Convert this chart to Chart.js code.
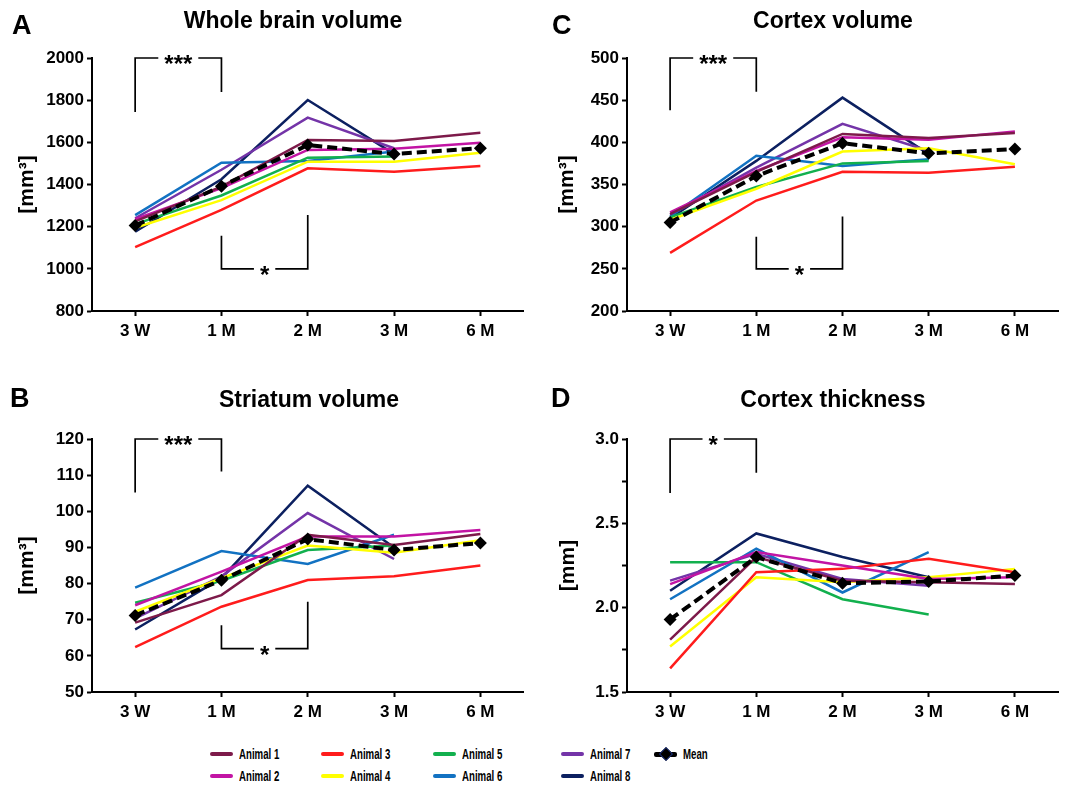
<!DOCTYPE html>
<html>
<head>
<meta charset="utf-8">
<script src="https://cdn.jsdelivr.net/npm/chart.js@4.4.1/dist/chart.umd.min.js"></script>
<style>
  body { margin: 0; background: #fff; }
  #fig { position: relative; width: 1065px; height: 786px; overflow: hidden;
         font-family: 'Liberation Sans', Arial, sans-serif; color: #000; }
  canvas { position: absolute; }
  .title { position: absolute; width: 400px; text-align: center; font-weight: bold;
           font-size: 23px; line-height: 23px; white-space: nowrap; }
  .letter { position: absolute; font-weight: bold; font-size: 27px; line-height: 27px; }
  .key { position: absolute; height: 14px; }
  .key .sw { position: absolute; left: 0; top: 5px; width: 23px; height: 4px; border-radius: 2px; }
  .key .txt { position: absolute; left: 29px; top: 0; font-weight: bold; font-size: 14px;
              line-height: 14px; white-space: nowrap; transform: scaleX(0.69); transform-origin: left; }
  .key .dia { position: absolute; left: 7px; top: 2px; width: 8px; height: 8px; background: #000;
              border: 1px solid #1b2f7a; transform: rotate(45deg); }
</style>
</head>
<body>
<div id="fig">
  <canvas id="chartA"></canvas>
  <canvas id="chartC"></canvas>
  <canvas id="chartB"></canvas>
  <canvas id="chartD"></canvas>
</div>
<script>
const timepoints = ['3 W', '1 M', '2 M', '3 M', '6 M'];
const animals = ['Animal 1', 'Animal 2', 'Animal 3', 'Animal 4', 'Animal 5', 'Animal 6', 'Animal 7', 'Animal 8'];
const animalColors = ['#7d1a4a', '#c214a4', '#ff1c1c', '#ffff00', '#12b04e', '#1272c2', '#7434a8', '#0c2060'];

// A - whole brain volume [mm3]
const wholeBrain = [
  [1225, 1390, 1611, 1606, 1645],
  [1235, 1383, 1564, 1570, 1598],
  [1103, 1280, 1477, 1461, 1488],
  [1195, 1326, 1508, 1508, 1551],
  [1212, 1348, 1527, 1533, null],
  [1255, 1503, 1511, 1556, null],
  [1240, 1470, 1717, 1572, null],
  [1176, 1425, 1801, 1545, null],
];
const wholeBrainMean = [1205, 1392, 1587, 1545, 1572];
const wholeBrainBrackets = [['3 W', '1 M', 2000, 1744, 1839, '***'], ['1 M', '2 M', 1000, 1157, 1255, '*']];

// C - cortex volume [mm3]
const cortexVolume = [
  [315, 365, 410, 405, 411],
  [317, 366, 406, 403, 413],
  [269, 331, 365, 364, 371],
  [308, 345, 389, 393, 374],
  [311, 347, 375, 378, null],
  [312, 384, 372, 380, null],
  [314, 370, 422, 390, null],
  [310, 378, 453, 386, null],
];
const cortexVolumeMean = [305, 360, 399, 387, 392];
const cortexVolumeBrackets = [['3 W', '1 M', 500, 438, 460, '***'], ['1 M', '2 M', 250, 288, 312, '*']];

// B - striatum volume [mm3]
const striatum = [
  [69.2, 76.8, 93.5, 90.7, 93.7],
  [74.0, 83.3, 93.0, 93.0, 94.8],
  [62.4, 73.6, 81.0, 82.0, 85.0],
  [72.2, 81.5, 90.5, 88.5, 92.0],
  [74.7, 80.8, 89.3, 90.5, null],
  [78.9, 89.0, 85.4, 93.5, null],
  [70.4, 82.0, 99.5, 86.8, null],
  [67.3, 81.5, 107.1, 90.0, null],
];
const striatumMean = [71.2, 80.9, 92.3, 89.3, 91.2];
const striatumBrackets = [['3 W', '1 M', 120, 105.2, 111, '***'], ['1 M', '2 M', 62, 68.5, 75, '*']];

// D - cortex thickness [mm]
const thickness = [
  [1.81, 2.30, 2.16, 2.15, 2.14],
  [2.14, 2.33, 2.25, 2.17, 2.18],
  [1.64, 2.21, 2.23, 2.29, 2.21],
  [1.77, 2.18, 2.15, 2.18, 2.23],
  [2.27, 2.27, 2.05, 1.96, null],
  [2.05, 2.35, 2.09, 2.33, null],
  [2.16, 2.32, 2.17, 2.13, null],
  [2.10, 2.44, 2.30, 2.18, null],
];
const thicknessMean = [1.93, 2.30, 2.145, 2.155, 2.19];
const thicknessBrackets = [['3 W', '1 M', 3.0, 2.68, 2.80, '*']];

const FONT = "'Liberation Sans', Arial, sans-serif";
Chart.defaults.font.family = FONT;
Chart.defaults.color = '#000';

function bracketPlugin(list) {
  return {
    id: 'brackets',
    afterDatasetsDraw(chart) {
      const { ctx, scales: { x, y } } = chart;
      ctx.save();
      ctx.strokeStyle = '#000';
      ctx.fillStyle = '#000';
      ctx.lineWidth = 1.7;
      ctx.font = 'bold 24px ' + FONT;
      ctx.textAlign = 'center';
      list.forEach(([from, to, level, endFrom, endTo, label]) => {
        const x1 = x.getPixelForValue(timepoints.indexOf(from));
        const x2 = x.getPixelForValue(timepoints.indexOf(to));
        const yl = y.getPixelForValue(level);
        const mid = (x1 + x2) / 2;
        const half = ctx.measureText(label).width / 2 + 6;
        ctx.beginPath();
        ctx.moveTo(x1, y.getPixelForValue(endFrom));
        ctx.lineTo(x1, yl);
        ctx.lineTo(mid - half, yl);
        ctx.moveTo(mid + half, yl);
        ctx.lineTo(x2, yl);
        ctx.lineTo(x2, y.getPixelForValue(endTo));
        ctx.stroke();
        ctx.fillText(label, mid, yl + 14);
      });
      ctx.restore();
    }
  };
}

function panel(id, box, values, mean, yMin, yMax, step, yTitle, brackets, fmt) {
  const cv = document.getElementById(id);
  cv.width = box.w; cv.height = box.h;
  cv.style.left = box.left + 'px'; cv.style.top = box.top + 'px';
  cv.style.width = box.w + 'px'; cv.style.height = box.h + 'px';

  const datasets = [{
    label: 'Mean', data: mean, borderColor: '#000', backgroundColor: '#000',
    borderWidth: 4, borderDash: [10, 5], pointStyle: 'rectRot', pointRadius: 6.5,
    pointBorderWidth: 0, tension: 0, order: 0
  }];
  values.forEach((v, i) => datasets.push({
    label: animals[i], data: v, borderColor: animalColors[i], backgroundColor: animalColors[i],
    borderWidth: 2.5, pointRadius: 0, tension: 0, order: 1
  }));

  const tickFont = { size: 17, weight: 'bold' };
  return new Chart(cv, {
    type: 'line',
    data: { labels: timepoints, datasets },
    plugins: [bracketPlugin(brackets)],
    options: {
      responsive: false,
      animation: false,
      devicePixelRatio: 1,
      layout: { padding: { top: box.padTop, right: box.padRight, left: 0, bottom: 0 } },
      plugins: { legend: { display: false }, tooltip: { enabled: false } },
      scales: {
        x: {
          offset: true,
          border: { color: '#000', width: 2 },
          grid: { drawOnChartArea: false, drawTicks: true, tickLength: 5, tickColor: '#000', tickWidth: 2, offset: false },
          ticks: { font: tickFont, padding: 5, maxRotation: 0, autoSkip: false },
          afterFit: s => { s.height = box.xH; }
        },
        y: {
          min: yMin, max: yMax,
          border: { color: '#000', width: 2 },
          grid: { drawOnChartArea: false, drawTicks: true, tickLength: 5, tickColor: '#000', tickWidth: 2 },
          ticks: { stepSize: step, font: tickFont, padding: 3, callback: fmt },
          title: { display: true, text: yTitle, font: { size: 21, weight: 'bold' }, padding: { top: box.titlePad, bottom: 0 } },
          afterFit: s => { s.width = box.axisW; }
        }
      }
    }
  });
}

const plain = v => String(v);
const half = v => Math.abs(v * 2 - Math.round(v * 2)) < 1e-6 ? v.toFixed(1) : '';

panel('chartA', { left: 0, top: 0, w: 530, h: 345, axisW: 92, padTop: 58, padRight: 3, xH: 34, titlePad: 15 },
  wholeBrain, wholeBrainMean, 800, 2000, 200, '[mm³]', wholeBrainBrackets, plain);
panel('chartC', { left: 530, top: 0, w: 535, h: 345, axisW: 97, padTop: 58, padRight: 7, xH: 34, titlePad: 25 },
  cortexVolume, cortexVolumeMean, 200, 500, 50, '[mm³]', cortexVolumeBrackets, plain);
panel('chartB', { left: 0, top: 370, w: 530, h: 356, axisW: 92, padTop: 69, padRight: 3, xH: 34, titlePad: 15 },
  striatum, striatumMean, 50, 120, 10, '[mm³]', striatumBrackets, plain);
panel('chartD', { left: 530, top: 370, w: 535, h: 356, axisW: 97, padTop: 69, padRight: 7, xH: 34, titlePad: 26 },
  thickness, thicknessMean, 1.5, 3.0, 0.25, '[mm]', thicknessBrackets, half);

// panel titles and letters
const fig = document.getElementById('fig');
function addText(cls, text, left, top) {
  const d = document.createElement('div');
  d.className = cls; d.textContent = text;
  d.style.left = left + 'px'; d.style.top = top + 'px';
  fig.appendChild(d);
}
addText('title', 'Whole brain volume', 293 - 200, 8.5);
addText('title', 'Cortex volume', 833 - 200, 8.5);
addText('title', 'Striatum volume', 309 - 200, 387.5);
addText('title', 'Cortex thickness', 833 - 200, 388);
addText('letter', 'A', 12, 12);
addText('letter', 'C', 552, 12);
addText('letter', 'B', 10, 385);
addText('letter', 'D', 551, 385);

// legend
const keyCols = [210, 321, 433, 561];
const keyRows = [747, 769];
animals.forEach((name, i) => {
  const k = document.createElement('div');
  k.className = 'key';
  k.style.left = keyCols[Math.floor(i / 2)] + 'px';
  k.style.top = keyRows[i % 2] + 'px';
  k.innerHTML = '<div class="sw" style="background:' + animalColors[i] + '"></div><div class="txt">' + name + '</div>';
  fig.appendChild(k);
});
const mk = document.createElement('div');
mk.className = 'key';
mk.style.left = '654px'; mk.style.top = keyRows[0] + 'px';
mk.innerHTML = '<div class="sw" style="background:#000;height:5px;top:4.5px"></div><div class="dia"></div><div class="txt">Mean</div>';
fig.appendChild(mk);
</script>
</body>
</html>
